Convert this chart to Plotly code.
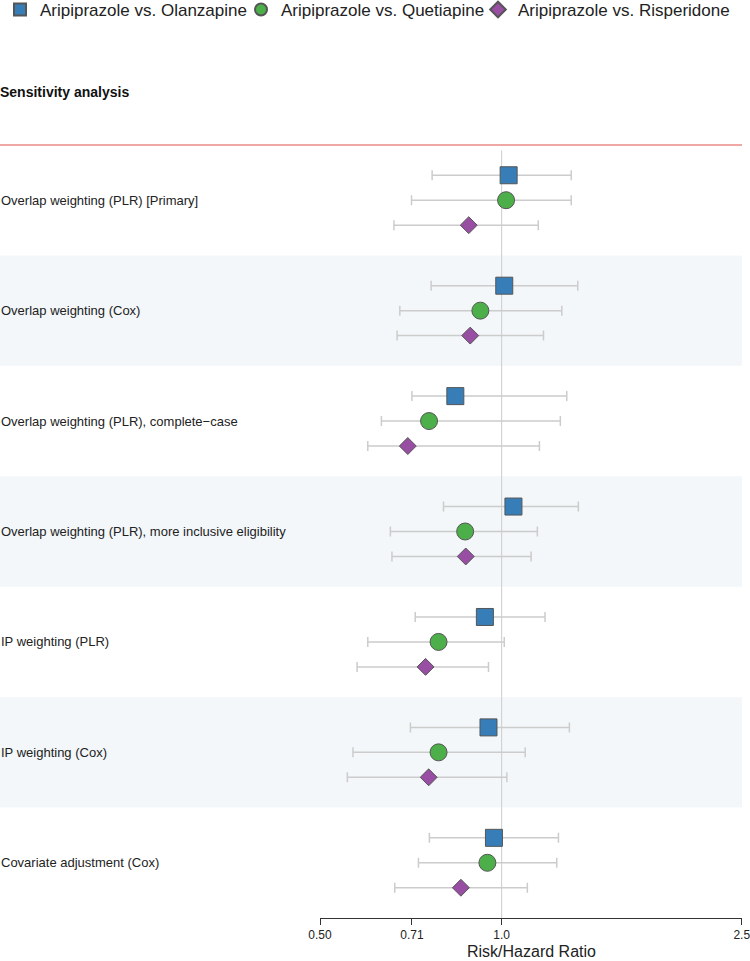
import plotly.graph_objects as go

analyses = [
    "Overlap weighting (PLR) [Primary]",
    "Overlap weighting (Cox)",
    "Overlap weighting (PLR), complete\u2212case",
    "Overlap weighting (PLR), more inclusive eligibility",
    "IP weighting (PLR)",
    "IP weighting (Cox)",
    "Covariate adjustment (Cox)",
]

series_names = [
    "Aripiprazole vs. Olanzapine",
    "Aripiprazole vs. Quetiapine",
    "Aripiprazole vs. Risperidone",
]

olz_est = [1.027, 1.010, 0.838, 1.046, 0.938, 0.951, 0.971]
olz_lo = [0.767, 0.764, 0.710, 0.801, 0.719, 0.706, 0.759]
olz_hi = [1.304, 1.337, 1.282, 1.340, 1.180, 1.295, 1.242]

que_est = [1.017, 0.922, 0.758, 0.870, 0.786, 0.786, 0.947]
que_lo = [0.709, 0.678, 0.632, 0.654, 0.600, 0.567, 0.728]
que_hi = [1.304, 1.258, 1.251, 1.146, 1.010, 1.094, 1.234]

ris_est = [0.882, 0.887, 0.699, 0.872, 0.748, 0.757, 0.856]
ris_lo = [0.663, 0.671, 0.600, 0.658, 0.576, 0.555, 0.665]
ris_hi = [1.150, 1.173, 1.155, 1.119, 0.951, 1.020, 1.103]

tick_vals = [0.5, 0.71, 1.0, 2.5]
tick_text = ["0.50", "0.71", "1.0", "2.5"]
x_title = "Risk/Hazard Ratio"

colors = ["#377eb8", "#4daf4a", "#984ea3"]
symbols = ["square", "circle", "diamond"]
sizes = [17, 17, 13]
offsets = [-0.226, 0.0, 0.226]
legend_x_px = [-8, 241, 478]

W, H = 750, 961
M_T, M_B, M_L, M_R = 145, 43, 0, 8
plot_w = W - M_L - M_R
plot_h = H - M_T - M_B
x_dom0 = 320 / plot_w

fig = go.Figure()

data = [(olz_est, olz_lo, olz_hi), (que_est, que_lo, que_hi), (ris_est, ris_lo, ris_hi)]
legend_ids = ["legend", "legend2", "legend3"]
n = len(analyses)
for k, (est, lo, hi) in enumerate(data):
    ys = [i + 0.5 + offsets[k] for i in range(n)]
    fig.add_trace(go.Scatter(
        x=est, y=ys, mode="markers", name=series_names[k], legend=legend_ids[k],
        marker=dict(symbol=symbols[k], size=sizes[k], color=colors[k],
                    line=dict(color="#555555", width=1)),
        error_x=dict(type="data", symmetric=False,
                     array=[h - e for h, e in zip(hi, est)],
                     arrayminus=[e - l for e, l in zip(est, lo)],
                     color="#cccccc", thickness=1.5, width=5),
        hoverinfo="skip",
    ))

shapes = []
for i in range(n):
    if i % 2 == 1:
        shapes.append(dict(type="rect", xref="paper", yref="y", x0=0, x1=1,
                           y0=i, y1=i + 1, fillcolor="#f3f7f9", line=dict(width=0),
                           layer="below"))
shapes.append(dict(type="line", xref="x", yref="paper", x0=1, x1=1, y0=0, y1=0.993,
                   line=dict(color="#cccccc", width=1), layer="below"))
shapes.append(dict(type="line", xref="paper", yref="paper", x0=0, x1=1, y0=1, y1=1,
                   line=dict(color="#e0524a", width=1.2)))

annotations = []
for i, lab in enumerate(analyses):
    annotations.append(dict(text=lab, xref="paper", yref="y", x=0, y=i + 0.5,
                            xanchor="left", yanchor="middle", showarrow=False,
                            xshift=-1, font=dict(size=13, color="#222222")))
annotations.append(dict(text="<b>Sensitivity analysis</b>", xref="paper", yref="paper",
                        x=0, y=1 + (M_T - 92) / plot_h, xanchor="left",
                        yanchor="middle", showarrow=False, xshift=-2,
                        font=dict(size=14, color="#111111")))
annotations.append(dict(text=x_title, xref="paper", yref="paper",
                        x=(x_dom0 + 1) / 2, y=-(960.5 - (H - M_B)) / plot_h,
                        xanchor="center", yanchor="bottom", showarrow=False,
                        borderpad=0, font=dict(size=16, color="#222222")))

legend_common = dict(orientation="h", xref="container", yref="paper",
                     xanchor="left", yanchor="top", font=dict(size=17),
                     itemclick=False, itemdoubleclick=False, itemsizing="constant",
                     y=(H - M_B + 8) / plot_h, bgcolor="rgba(0,0,0,0)")

fig.update_layout(
    width=W, height=H,
    margin=dict(l=M_L, r=M_R, t=M_T, b=M_B, autoexpand=False),
    paper_bgcolor="white", plot_bgcolor="white",
    font=dict(family="Liberation Sans, Arial, sans-serif", color="#222222"),
    showlegend=True,
    legend=dict(x=legend_x_px[0] / W, **legend_common),
    legend2=dict(x=legend_x_px[1] / W, **legend_common),
    legend3=dict(x=legend_x_px[2] / W, **legend_common),
    xaxis=dict(type="log", domain=[x_dom0, 1], automargin=False,
               range=[-0.30103, 0.3983], tickvals=tick_vals, ticktext=tick_text,
               showline=True, linecolor="#333333", linewidth=1,
               ticks="outside", ticklen=6, tickcolor="#333333", ticklabelstandoff=0,
               ticklabeloverflow="allow",
               showgrid=False, zeroline=False, tickfont=dict(size=12)),
    yaxis=dict(range=[n, 0], visible=False, showgrid=False, zeroline=False,
               automargin=False),
    shapes=shapes, annotations=annotations,
)

fig.write_html("out.html", config={"displayModeBar": False})
